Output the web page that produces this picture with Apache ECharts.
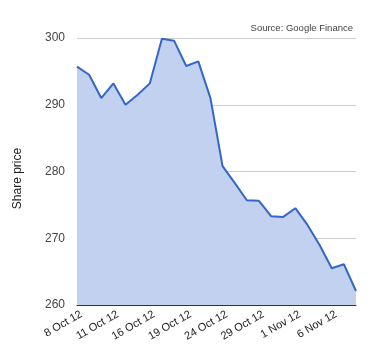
<!DOCTYPE html>
<html><head><meta charset="utf-8">
<script src="https://cdn.jsdelivr.net/npm/echarts@6/dist/echarts.min.js"></script>
<style>html,body{margin:0;padding:0;background:#fff}#c{width:380px;height:360px}</style>
</head><body><div id="c"></div>
<script>
const categories = ['8 Oct 12','9 Oct 12','10 Oct 12','11 Oct 12','12 Oct 12','15 Oct 12','16 Oct 12','17 Oct 12','18 Oct 12','19 Oct 12','22 Oct 12','23 Oct 12','24 Oct 12','25 Oct 12','26 Oct 12','29 Oct 12','30 Oct 12','31 Oct 12','1 Nov 12','2 Nov 12','5 Nov 12','6 Nov 12','7 Nov 12','8 Nov 12'];
const prices = [295.7,294.5,291.0,293.2,290.0,291.5,293.2,299.9,299.6,295.8,296.5,291.0,280.8,278.3,275.7,275.6,273.3,273.2,274.5,272.0,269.0,265.5,266.1,262.1];
const yTicks = [260,270,280,290,300];

const chart = echarts.init(document.getElementById('c'));
chart.setOption({
  animation:false,
  graphic:[{type:'text',right:27,top:23,style:{text:'Source: Google Finance',fontSize:9.5,fill:'#444',fontFamily:'Arial'}}],
  grid:{left:77,right:24,top:38,bottom:55},
  xAxis:{type:'category',data:categories,boundaryGap:false,
    axisLine:{lineStyle:{color:'#333',width:1}},axisTick:{show:false},
    axisLabel:{interval:2,rotate:30,fontSize:11,color:'#222',fontFamily:'Arial',margin:11,padding:[0,-5,0,0]},
    splitLine:{show:false}},
  yAxis:{type:'value',min:yTicks[0],max:yTicks[yTicks.length-1],interval:10,
    name:'Share price',nameLocation:'middle',nameGap:53,nameRotate:90,
    nameTextStyle:{fontSize:12,color:'#222',fontFamily:'Arial',padding:[0,14,0,0]},
    axisLine:{show:false},axisTick:{show:false},
    axisLabel:{fontSize:12,color:'#444',fontFamily:'Arial',margin:12},
    splitLine:{lineStyle:{color:'#ccc'}}},
  series:[{type:'line',data:prices,symbol:'none',
    lineStyle:{color:'#3366cc',width:2},
    areaStyle:{color:'#c2d1ef',opacity:1}}]
});
</script></body></html>
